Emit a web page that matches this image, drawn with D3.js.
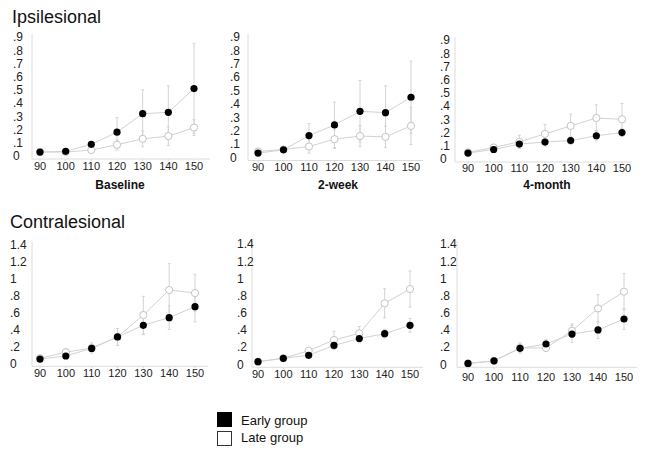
<!DOCTYPE html>
<html><head><meta charset="utf-8">
<script src="https://cdn.jsdelivr.net/npm/d3@7"></script>
<style>body{margin:0;background:#fff;} svg{display:block;font-family:"Liberation Sans",Arial,sans-serif;}</style>
</head><body><svg id="c" width="647" height="455"></svg>
<script>
const doses = [90,100,110,120,130,140,150];
const ticksTop = [0,0.1,0.2,0.3,0.4,0.5,0.6,0.7,0.8,0.9];
const ticksBottom = [0,0.2,0.4,0.6,0.8,1,1.2,1.4];
const sessionLabels = ["Baseline","2-week","4-month"];
const rowTitles = ["Ipsilesional","Contralesional"];
const legendLabels = ["Early group","Late group"];

const ipsiEarlyBase = [0.03,0.035,0.088,0.18,0.32,0.33,0.51];
const ipsiEarlyBaseErr = [0.01,0.01,0.02,0.11,0.18,0.2,0.34];
const ipsiLateBase = [0.03,0.03,0.045,0.085,0.13,0.15,0.215];
const ipsiLateBaseErr = [0.01,0.01,0.02,0.04,0.06,0.07,0.06];

const ipsiEarly2w = [0.033,0.057,0.164,0.243,0.345,0.335,0.45];
const ipsiEarly2wErr = [0.01,0.01,0.09,0.17,0.23,0.2,0.27];
const ipsiLate2w = [0.045,0.06,0.082,0.137,0.16,0.154,0.236];
const ipsiLate2wErr = [0.01,0.01,0.05,0.07,0.08,0.08,0.14];

const ipsiEarly4m = [0.045,0.072,0.113,0.128,0.14,0.176,0.2];
const ipsiEarly4mErr = [0.01,0.01,0.03,0.03,0.03,0.04,0.03];
const ipsiLate4m = [0.05,0.087,0.13,0.19,0.25,0.31,0.30];
const ipsiLate4mErr = [0.01,0.02,0.05,0.07,0.09,0.1,0.12];

const contraEarlyBase = [0.05,0.086,0.175,0.31,0.447,0.537,0.666];
const contraEarlyBaseErr = [0.01,0.02,0.04,0.1,0.11,0.14,0.18];
const contraLateBase = [0.06,0.13,0.18,0.31,0.568,0.862,0.827];
const contraLateBaseErr = [0.01,0.04,0.06,0.1,0.22,0.31,0.22];

const contraEarly2w = [0.03,0.07,0.105,0.22,0.30,0.356,0.454];
const contraEarly2wErr = [0.01,0.01,0.02,0.05,0.05,0.05,0.08];
const contraLate2w = [0.03,0.07,0.158,0.283,0.36,0.71,0.876];
const contraLate2wErr = [0.01,0.01,0.03,0.1,0.08,0.17,0.21];

const contraEarly4m = [0.01,0.04,0.186,0.236,0.352,0.40,0.527];
const contraEarly4mErr = [0.01,0.01,0.05,0.05,0.1,0.1,0.12];
const contraLate4m = [0.01,0.04,0.19,0.19,0.39,0.65,0.845];
const contraLate4mErr = [0.01,0.01,0.06,0.04,0.08,0.16,0.21];

const panels = [
 {row:0,col:0,early:ipsiEarlyBase,earlyErr:ipsiEarlyBaseErr,late:ipsiLateBase,lateErr:ipsiLateBaseErr,
  lab:13,ax:32,x0:40,x1:194,xEnd:210,y0:156,yTop:37,yMax:0.9,ticks:ticksTop,xl:170,title:sessionLabels[0],tx:120},
 {row:0,col:1,early:ipsiEarly2w,earlyErr:ipsiEarly2wErr,late:ipsiLate2w,lateErr:ipsiLate2wErr,
  lab:230,ax:248,x0:258,x1:411,xEnd:423,y0:157.5,yTop:37,yMax:0.9,ticks:ticksTop,xl:171,title:sessionLabels[1],tx:338},
 {row:0,col:2,early:ipsiEarly4m,earlyErr:ipsiEarly4mErr,late:ipsiLate4m,lateErr:ipsiLate4mErr,
  lab:440,ax:455,x0:468,x1:622,xEnd:632,y0:159,yTop:40,yMax:0.9,ticks:ticksTop,xl:172,title:sessionLabels[2],tx:547},
 {row:1,col:0,early:contraEarlyBase,earlyErr:contraEarlyBaseErr,late:contraLateBase,lateErr:contraLateBaseErr,
  lab:10,ax:32,x0:40,x1:195,xEnd:208,y0:363.3,yTop:244.3,yMax:1.4,ticks:ticksBottom,xl:377},
 {row:1,col:1,early:contraEarly2w,earlyErr:contraEarly2wErr,late:contraLate2w,lateErr:contraLate2wErr,
  lab:237,ax:252,x0:258,x1:410,xEnd:423,y0:364.3,yTop:244,yMax:1.4,ticks:ticksBottom,xl:378},
 {row:1,col:2,early:contraEarly4m,earlyErr:contraEarly4mErr,late:contraLate4m,lateErr:contraLate4mErr,
  lab:440,ax:457,x0:468,x1:624,xEnd:637,y0:364.3,yTop:244,yMax:1.4,ticks:ticksBottom,xl:381},
];

const svg = d3.select("#c");
const fmt = v => { let s = d3.format("~g")(+v.toFixed(2)); return s.startsWith("0.") ? s.slice(1) : s; };

svg.append("text").attr("x",12).attr("y",23).attr("font-size",18).attr("fill","#111").text(rowTitles[0]);
svg.append("text").attr("x",10).attr("y",228).attr("font-size",18).attr("fill","#111").text(rowTitles[1]);

const axisCol = "#dcdcdc", lineCol = "#d2d2d2", errCol = "#d4d4d4";

panels.forEach(p => {
  const g = svg.append("g");
  const x = d3.scaleLinear().domain([90,150]).range([p.x0,p.x1]);
  const y = d3.scaleLinear().domain([0,p.yMax]).range([p.y0,p.yTop]);
  const axY = p.y0 + 3;
  g.append("line").attr("x1",p.ax).attr("x2",p.ax).attr("y1",y(p.yMax)-3).attr("y2",axY).attr("stroke",axisCol);
  g.append("line").attr("x1",p.ax).attr("x2",p.xEnd).attr("y1",axY).attr("y2",axY).attr("stroke",axisCol);
  g.selectAll(".xt").data(doses).enter().append("line")
    .attr("x1",d=>x(d)).attr("x2",d=>x(d)).attr("y1",axY).attr("y2",axY+2).attr("stroke",axisCol);
  g.selectAll(".yl").data(p.ticks).enter().append("text")
    .attr("x",p.lab).attr("y",d=>y(d)).attr("dy","0.36em").attr("font-size",12).attr("fill","#222")
    .text(fmt);
  g.selectAll(".xl").data(doses).enter().append("text")
    .attr("x",d=>x(d)).attr("y",p.xl).attr("text-anchor","middle").attr("font-size",11).attr("fill","#222")
    .text(d=>d);
  if (p.title) g.append("text").attr("x",p.tx).attr("y",189).attr("text-anchor","middle")
    .attr("font-size",12).attr("font-weight","bold").attr("fill","#111").text(p.title);

  const line = d3.line().x((d,i)=>x(doses[i])).y(d=>y(d));
  [["late",p.late,p.lateErr],["early",p.early,p.earlyErr]].forEach(([k,vals,errs])=>{
    const eb = g.append("g");
    vals.forEach((v,i)=>{
      const cx = x(doses[i]);
      eb.append("line").attr("x1",cx).attr("x2",cx).attr("y1",y(v+errs[i])).attr("y2",y(Math.max(0,v-errs[i]))).attr("stroke",errCol);
      [v+errs[i], Math.max(0,v-errs[i])].forEach(e=>{
        eb.append("line").attr("x1",cx-1.5).attr("x2",cx+1.5).attr("y1",y(e)).attr("y2",y(e)).attr("stroke",errCol);
      });
    });
  });
  [["late",p.late],["early",p.early]].forEach(([k,vals])=>{
    g.append("path").datum(vals).attr("d",line).attr("fill","none").attr("stroke",lineCol).attr("stroke-width",1);
  });
  g.selectAll(".lp").data(p.late).enter().append("circle")
    .attr("cx",(d,i)=>x(doses[i])).attr("cy",d=>y(d)).attr("r",3.6)
    .attr("fill","#fff").attr("stroke","#c4c4c4").attr("stroke-width",1);
  g.selectAll(".ep").data(p.early).enter().append("circle")
    .attr("cx",(d,i)=>x(doses[i])).attr("cy",d=>y(d)).attr("r",3.6)
    .attr("fill","#000");
});

const lg = svg.append("g");
lg.append("rect").attr("x",217).attr("y",412).attr("width",15).attr("height",15).attr("fill","#000");
lg.append("rect").attr("x",217.5).attr("y",431.5).attr("width",14).attr("height",14).attr("fill","#fff").attr("stroke","#333");
lg.append("text").attr("x",241).attr("y",425).attr("font-size",13).attr("fill","#111").text(legendLabels[0]);
lg.append("text").attr("x",241).attr("y",442).attr("font-size",13).attr("fill","#111").text(legendLabels[1]);
</script></body></html>
